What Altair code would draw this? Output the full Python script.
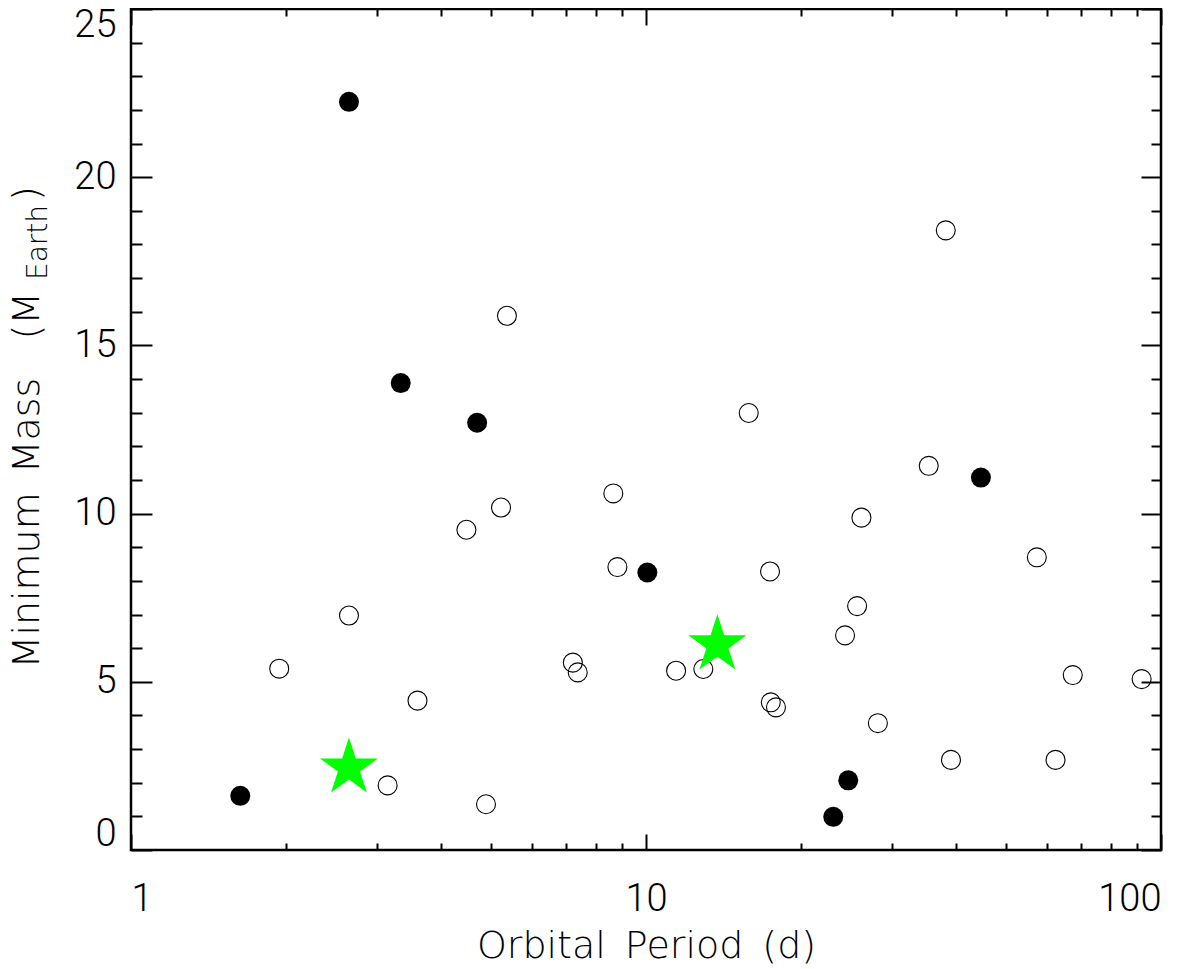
import altair as alt
import pandas as pd

# ---- data ----
open_P = [5.37, 5.23, 4.48, 2.65, 1.94, 3.60, 3.15, 4.89, 15.83, 8.64, 8.80, 17.41,
          7.21, 7.37, 11.44, 12.92, 17.47, 17.88, 24.35, 38.2, 35.4, 26.2, 57.4, 25.7,
          28.2, 39.1, 62.4, 67.4, 91.7]
open_M = [15.88, 10.18, 9.52, 6.97, 5.39, 4.44, 1.92, 1.36, 12.99, 10.60, 8.41, 8.28,
          5.57, 5.28, 5.33, 5.38, 4.39, 4.24, 6.38, 18.42, 11.42, 9.88, 8.70, 7.25,
          3.77, 2.68, 2.68, 5.20, 5.08]
filled_P = [2.65, 3.34, 4.70, 1.63, 10.06, 44.7, 24.7, 23.1]
filled_M = [22.24, 13.88, 12.70, 1.61, 8.25, 11.07, 2.07, 0.985]
star_P = [2.65, 13.76]
star_M = [2.44, 6.10]

x_major = [1, 10, 100]
x_minor = [2, 3, 4, 5, 6, 7, 8, 9, 20, 30, 40, 50, 60, 70, 80, 90]
y_major = [0, 5, 10, 15, 20, 25]
y_minor = [v for v in range(0, 26) if v % 5 != 0]

x_title = "Orbital\u2002Period\u2002(d)"
y_title_main = "Minimum\u2002Mass\u2003(M"
y_title_sub = "Earth"
y_title_end = ")"

# ---- layout ----
W, H = 1030, 841
NUM_FONT = "Roboto"
TXT_FONT = "DejaVu Sans"
FS = 38

open_df = pd.DataFrame({"P": open_P, "M": open_M})
filled_df = pd.DataFrame({"P": filled_P, "M": filled_M})
star_df = pd.DataFrame({"P": star_P, "M": star_M})
all_df = pd.concat([open_df, filled_df, star_df], ignore_index=True)

xs = alt.Scale(type="log", domain=[1, 100], nice=False)
ys = alt.Scale(domain=[0, 25], nice=False, zero=False)

STAR = ("M0,-1L0.2245,-0.309L0.951,-0.309L0.3633,0.118L0.5878,0.809L0,0.382"
        "L-0.5878,0.809L-0.3633,0.118L-0.951,-0.309L-0.2245,-0.309Z")

label_x_axis = alt.Axis(orient="bottom", values=x_major, format="d", ticks=False, tickSize=0,
                        domain=False, grid=False, labelFont=NUM_FONT, labelFontWeight=300,
                        labelFontSize=FS, labelColor="black", labelPadding=30,
                        title=x_title, titleFont=TXT_FONT, titleFontWeight=200,
                        titleFontSize=FS, titleColor="black", titleY=107,
                        titleBaseline="alphabetic")
label_y_axis = alt.Axis(orient="left", values=y_major, format="d", ticks=False, tickSize=0,
                        domain=False, grid=False, labelFont=NUM_FONT, labelFontWeight=300,
                        labelFontSize=FS, labelColor="black", labelPadding=15,
                        labelFlush=True, labelFlushOffset=3, title=None)

opens = alt.Chart(open_df).mark_point(shape="circle", filled=False, stroke="black",
                                      strokeWidth=1.1, size=360, opacity=1).encode(
    x=alt.X("P:Q", scale=xs, axis=label_x_axis),
    y=alt.Y("M:Q", scale=ys, axis=label_y_axis),
)
filled = alt.Chart(filled_df).mark_circle(color="black", size=400, opacity=1).encode(
    x=alt.X("P:Q", scale=xs, axis=None),
    y=alt.Y("M:Q", scale=ys, axis=None),
)
stars = alt.Chart(star_df).mark_point(shape=STAR, filled=True, fill="#00ff00",
                                      strokeWidth=0, size=3720, opacity=1).encode(
    x=alt.X("P:Q", scale=xs, axis=None),
    y=alt.Y("M:Q", scale=ys, axis=None),
)


def tick_axis(orient, offset, values, size):
    return alt.Axis(orient=orient, offset=offset, values=values, labels=False,
                    domain=False, grid=False, ticks=True, tickSize=size, tickWidth=2,
                    tickColor="black", title=None)


def tick_layer(xa, ya):
    return alt.Chart(all_df).mark_point(opacity=0).encode(
        x=alt.X("P:Q", scale=xs, axis=xa),
        y=alt.Y("M:Q", scale=ys, axis=ya),
    )


# inward ticks: an axis oriented towards the opposite side, moved across the plot
t1 = tick_layer(tick_axis("top", -H, x_major, 16), tick_axis("right", -W, y_major, 21))
t2 = tick_layer(tick_axis("top", -H, x_minor, 7), tick_axis("right", -W, y_minor, 11))
t3 = tick_layer(tick_axis("bottom", -H, x_major, 16), tick_axis("left", -W, y_major, 20))
t4 = tick_layer(tick_axis("bottom", -H, x_minor, 7), tick_axis("left", -W, y_minor, 10))

one = pd.DataFrame({"k": [0]})
ytitle1 = alt.Chart(one).mark_text(text=y_title_main, angle=270, align="right",
                                   baseline="alphabetic", font=TXT_FONT, fontWeight=200,
                                   fontSize=FS, color="black").encode(
    x=alt.value(-92), y=alt.value(283))
ytitle2 = alt.Chart(one).mark_text(text=y_title_sub, angle=270, align="left",
                                   baseline="alphabetic", font=TXT_FONT, fontWeight=200,
                                   fontSize=28, color="black").encode(
    x=alt.value(-84), y=alt.value(271))
ytitle3 = alt.Chart(one).mark_text(text=y_title_end, angle=270, align="left",
                                   baseline="alphabetic", font=TXT_FONT, fontWeight=200,
                                   fontSize=FS, color="black").encode(
    x=alt.value(-92), y=alt.value(192))

chart = alt.layer(t1, t2, t3, t4, opens, filled, stars, ytitle1, ytitle2, ytitle3).resolve_axis(
    x="independent", y="independent"
).properties(
    width=W, height=H,
    autosize=alt.AutoSizeParams(type="none"),
    padding={"left": 123, "top": 1, "right": 30, "bottom": 118},
).configure_view(stroke="black", strokeWidth=2.5)

chart.save("out.html", embed_options={"renderer": "svg", "actions": False})
